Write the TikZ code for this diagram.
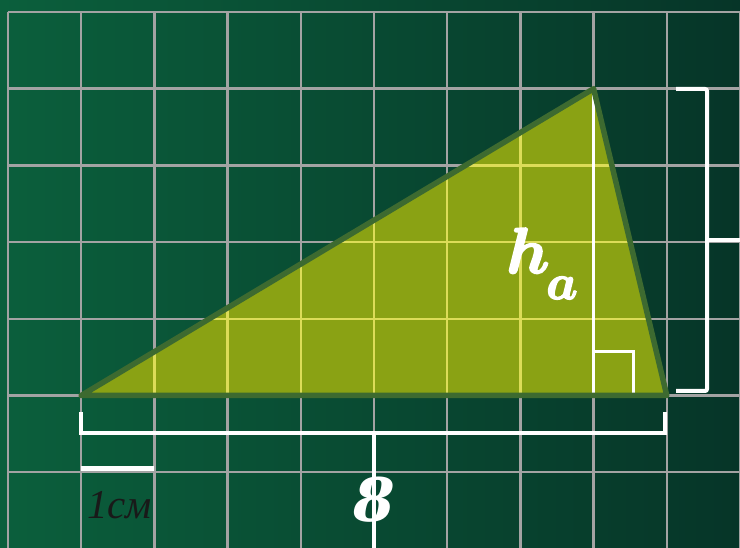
\documentclass[tikz,border=0pt]{standalone}
\usepackage{amsmath}
\usepackage{fontspec}
\setmainfont{Liberation Serif}
\newfontfamily\digitfont{DejaVu Serif}
\newcommand{\heavytext}[1]{\special{pdf:literal 2 Tr 0.7 w 1 1 1 RG}#1\special{pdf:literal 0 Tr}}
\begin{document}
\begin{tikzpicture}[x=1pt,y=-1pt]
\definecolor{bgL}{HTML}{0B5F3C}
\definecolor{bgR}{HTML}{063528}
\definecolor{gridc}{HTML}{A3A3A3}
\definecolor{gridy}{HTML}{DCDC58}
\definecolor{trifill}{HTML}{8AA214}
\definecolor{triedge}{HTML}{3D6A30}
\tikzset{
  gridline/.style={draw=gridc,line width=2.4pt},
  gridyel/.style={draw=gridy,line width=2.4pt},
  whiteline/.style={draw=white,line width=4pt},
  thinwhite/.style={draw=white,line width=3pt},
  lbl/.style={inner sep=0pt,text=white}
}
\useasboundingbox (0,0) rectangle (740,548);
\shade[left color=bgL,right color=bgR] (0,0) rectangle (740,548);
% grid
\foreach \k in {0,...,10}{
  \draw[gridline] ({8+73.2*\k},12) -- ({8+73.2*\k},548);
}
\foreach \k in {0,...,7}{
  \draw[gridline] (8,{12+76.7*\k}) -- (740,{12+76.7*\k});
}
% triangle
\coordinate (A) at (81.2,395.5);
\coordinate (B) at (593.6,88.7);
\coordinate (C) at (666.8,395.5);
\coordinate (H) at (593.6,395.5);
\fill[trifill] (A) -- (B) -- (C) -- cycle;
\begin{scope}
  \clip (A) -- (B) -- (C) -- cycle;
  \foreach \k in {0,...,10}{
    \draw[gridyel] ({8+73.2*\k},12) -- ({8+73.2*\k},548);
  }
  \foreach \k in {0,...,7}{
    \draw[gridyel] (8,{12+76.7*\k}) -- (740,{12+76.7*\k});
  }
\end{scope}
% height
\draw[thinwhite] (B) -- (H);
\coordinate (Q1) at (593.6,352);
\coordinate (Q2) at (633,352);
\coordinate (Q3) at (633,395.5);
\draw[thinwhite] (Q1) -- (Q2) -- (Q3);
\draw[triedge,line width=5.5pt,line join=round] (A) -- (B) -- (C) -- cycle;
% right bracket
\coordinate (R1) at (676,89);
\coordinate (R2) at (707,89);
\coordinate (R3) at (707,391);
\coordinate (R4) at (676,391);
\coordinate (RT) at (740,240);
\coordinate (RM) at (707,240);
\draw[whiteline,rounded corners=2pt] (R1) -- (R2) -- (R3) -- (R4);
\draw[whiteline] (RM) -- (RT);
% bottom bracket
\coordinate (D1) at (81,412);
\coordinate (D2) at (81,433);
\coordinate (D3) at (665,433);
\coordinate (D4) at (665,412);
\coordinate (DM) at (374,433);
\coordinate (DB) at (374,548);
\draw[whiteline] (D1) -- (D2) -- (D3) -- (D4);
\draw[whiteline] (DM) -- (DB);
% unit line
\coordinate (U1) at (81,468);
\coordinate (U2) at (154,468);
\draw[draw=white,line width=5pt] (U1) -- (U2);
% labels
\node[lbl,anchor=base] (eight) at (374,521) {\fontsize{60}{60}\selectfont\digitfont\bfseries\itshape 8};
\node[lbl,anchor=base,scale=2.6] (hlab) at (528,273) {\Huge\heavytext{$\boldsymbol{h}$}};
\node[lbl,anchor=base,scale=2.0] (alab) at (562,299) {\Huge\heavytext{$\boldsymbol{a}$}};
\node[inner sep=0pt,anchor=base west,text=black!90] (cm) at (87,518) {\fontsize{41}{41}\selectfont\itshape 1см};
\end{tikzpicture}
\end{document}
